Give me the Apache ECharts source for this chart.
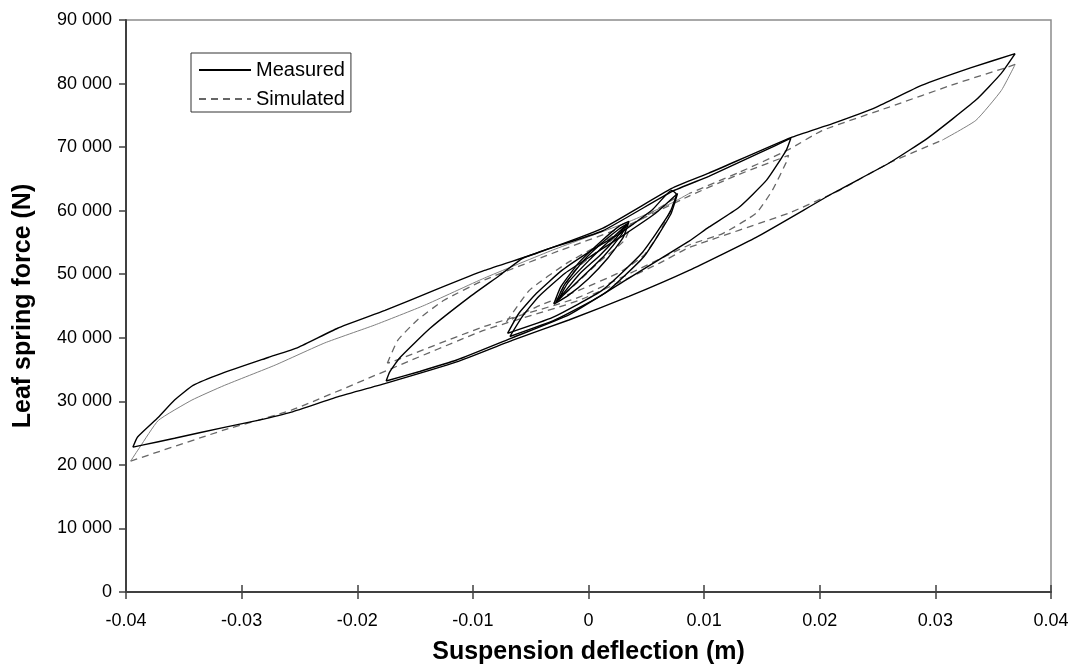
<!DOCTYPE html>
<html>
<head>
<meta charset="utf-8">
<script src="https://cdn.jsdelivr.net/npm/echarts@6/dist/echarts.min.js"></script>
<style>html,body{margin:0;padding:0;background:#fff}#c{width:1074px;height:672px}</style>
</head>
<body>
<div id="c"></div>
<script>
// ---- tick values ----
const xTicks = [-0.04, -0.03, -0.02, -0.01, 0, 0.01, 0.02, 0.03, 0.04];
const yTicks = [0, 10000, 20000, 30000, 40000, 50000, 60000, 70000, 80000, 90000];

// ---- Measured (deflection m, force N) ----
const measuredBig = [[0.0369,84700],[0.0331,82500],[0.0288,79700],[0.0249,76300],[0.0211,73700],[0.0175,71500],[0.0104,65900],[0.0072,63500],[0.0012,57200],[-0.0045,53300],[-0.0090,50600],[-0.0133,47500],[-0.0176,44300],[-0.0217,41500],[-0.0251,38500],[-0.0277,36900],[-0.0317,34400],[-0.0342,32500],[-0.0358,30200],[-0.0372,27500],[-0.0390,24400],[-0.0394,22800],[-0.0386,23100],[-0.0358,24200],[-0.0315,25900],[-0.0286,27000],[-0.0257,28300],[-0.0217,30700],[-0.0174,32900],[-0.0114,36200],[-0.0066,39600],[-0.0017,42800],[0.0035,46500],[0.0087,50600],[0.0145,55800],[0.0211,62700],[0.0260,67500],[0.0294,71500],[0.0335,77400],[0.0357,81600],[0.0369,84700]];
const measuredMedium = [[-0.0175,33200],[-0.0172,34600],[-0.0163,36900],[-0.0137,41500],[-0.0103,46400],[-0.0077,49800],[-0.0057,52500],[-0.0038,53800],[0.0012,56800],[0.0072,63000],[0.0104,65400],[0.0147,69000],[0.0175,71400],[0.0171,69500],[0.0154,64800],[0.0130,60500],[0.0104,57400],[0.0087,55200],[0.0035,49400],[-0.0017,43600],[-0.0066,40000],[-0.0114,36500],[-0.0146,34700],[-0.0175,33200]];
const measuredSmallA = [[-0.0070,40700],[-0.0060,43900],[-0.0045,47000],[-0.0023,50600],[0.0003,53800],[0.0027,56400],[0.0055,60100],[0.0072,63200],[0.0076,62600],[0.0070,59600],[0.0046,53300],[0.0012,47500],[-0.0031,43200],[-0.0070,40700]];
const measuredSmallB = [[-0.0068,40200],[-0.0057,43400],[-0.0043,46500],[-0.0020,50200],[0.0006,53300],[0.0029,56000],[0.0058,59600],[0.0077,62700],[0.0071,59400],[0.0048,52800],[0.0014,47000],[-0.0029,42800],[-0.0068,40200]];
const measuredTinyA = [[-0.0028,45600],[-0.0021,48300],[-0.0004,52200],[0.0014,55300],[0.0027,57200],[0.0034,58000],[0.0028,56100],[0.0014,53000],[-0.0004,49800],[-0.0019,47200],[-0.0028,45600]];
const measuredTinyB = [[-0.0030,45300],[-0.0024,48000],[-0.0008,51900],[0.0011,55200],[0.0026,57500],[0.0035,58300],[0.0030,55800],[0.0017,52600],[0.0000,49300],[-0.0018,46600],[-0.0030,45300]];
const measuredTinyC = [[-0.0026,46000],[-0.0018,48600],[0.0000,52100],[0.0016,54900],[0.0033,57800],[0.0024,55700],[0.0010,53000],[-0.0008,50000],[-0.0026,46000]];

// ---- Simulated ----
const simulatedBigUpper = [[0.0369,83000],[0.0361,82500],[0.0318,80000],[0.0260,76300],[0.0202,72600],[0.0173,69600],[0.0130,66000],[0.0087,62700]];
const simulatedBigUpperDense = [[0.0087,62700],[0.0072,61200],[0.0034,58200],[-0.0031,53800],[-0.0090,49400],[-0.0142,45100],[-0.0185,42000],[-0.0228,39200],[-0.0271,35700],[-0.0315,32500],[-0.0343,30200],[-0.0372,27000],[-0.0388,22800],[-0.0396,20600]];
const simulatedBigLower = [[-0.0396,20600],[-0.0315,25500],[-0.0257,28600],[-0.0170,35200],[-0.0090,41200],[-0.0008,45900],[0.0061,51700],[0.0087,54200],[0.0173,59600],[0.0217,63200],[0.0260,67500],[0.0306,71100]];
const simulatedBigTipDense = [[0.0306,71100],[0.0335,74200],[0.0357,78900],[0.0369,83000]];
const simulatedMedium = [[-0.0174,36000],[-0.0165,39600],[-0.0148,42800],[-0.0125,45900],[-0.0090,49100],[-0.0031,53300],[0.0034,57700],[0.0087,62300],[0.0130,65700],[0.0173,68700],[0.0171,67600],[0.0159,63200],[0.0145,59600],[0.0116,56400],[0.0087,54600],[-0.0008,46400],[-0.0090,41800],[-0.0170,36200],[-0.0174,36000]];
const simulatedSmall = [[-0.0071,42500],[-0.0051,47500],[-0.0019,51700],[0.0009,54600],[0.0044,58500],[0.0076,62100],[0.0071,60100],[0.0061,56400],[0.0048,53000],[0.0027,50300],[-0.0008,47500],[-0.0042,45100],[-0.0071,42500]];
const simulatedTiny = [[-0.0030,45400],[-0.0012,50600],[0.0009,53800],[0.0031,56900],[0.0037,57900],[0.0031,55300],[0.0009,51900],[-0.0012,48300],[-0.0030,45400]];

const FONT = "'Liberation Sans', Arial, sans-serif";
const MEAS = {color:'#000000', width:1.4, type:'solid'};
const SIMD = {color:'#666666', width:1.3, type:[7,5]};
const SIMS = {color:'#808080', width:1, type:'solid'};

function ser(name, data, ls, z){
  return {name, type:'line', data, showSymbol:false, symbol:'none', smooth:0.15,
    lineStyle:ls, itemStyle:{color:ls.color}, z:z, silent:true};
}

const chart = echarts.init(document.getElementById('c'), null, {renderer:'canvas'});
chart.setOption({
  animation:false,
  backgroundColor:'#ffffff',
  grid:{left:126, right:23, top:20, bottom:80, show:true, borderColor:'#8c8c8c', borderWidth:1.5, backgroundColor:'transparent'},
  legend:{
    data:['Measured','Simulated'], orient:'vertical', left:191, top:53,
    itemWidth:52, itemHeight:14, itemGap:9, padding:[7,6,3,7],
    borderColor:'#333', borderWidth:1, backgroundColor:'#fff',
    itemStyle:{opacity:0},
    textStyle:{fontFamily:FONT, fontSize:20, color:'#000'}
  },
  xAxis:[{
    type:'value', min:-0.04, max:0.04, interval:0.01,
    name:'Suspension deflection (m)', nameLocation:'middle', nameGap:48,
    nameTextStyle:{fontFamily:FONT, fontSize:25, fontWeight:'bold', color:'#000'},
    axisLine:{show:true, onZero:false, lineStyle:{color:'#404040', width:2}},
    axisTick:{show:true, length:7, lineStyle:{color:'#404040', width:1.5}},
    axisLabel:{fontFamily:FONT, fontSize:18, color:'#000', margin:20,
      formatter:v=>String(parseFloat(v.toFixed(2)))},
    splitLine:{show:false}
  },{
    type:'value', min:-0.04, max:0.04, interval:0.01, position:'bottom',
    axisLine:{show:false}, axisLabel:{show:false}, splitLine:{show:false},
    axisTick:{show:true, inside:true, length:7, lineStyle:{color:'#404040', width:1.5}}
  }],
  yAxis:{
    type:'value', min:0, max:90000, interval:10000,
    name:'Leaf spring force (N)', nameLocation:'middle', nameGap:90,
    nameTextStyle:{fontFamily:FONT, fontSize:25, fontWeight:'bold', color:'#000'},
    axisLine:{show:true, onZero:false, lineStyle:{color:'#404040', width:2}},
    axisTick:{show:true, length:7, lineStyle:{color:'#404040', width:1.5}},
    axisLabel:{fontFamily:FONT, fontSize:18, color:'#000', margin:14,
      formatter:v=>String(v).replace(/\B(?=(\d{3})+(?!\d))/g,' ')},
    splitLine:{show:false}
  },
  series:[
    ser('Simulated', simulatedBigUpper, SIMD, 2),
    ser('Simulated', simulatedBigLower, SIMD, 2),
    ser('Simulated', simulatedMedium, SIMD, 2),
    ser('Simulated', simulatedSmall, SIMD, 2),
    ser('Simulated', simulatedTiny, SIMD, 2),
    ser('Simulated', simulatedBigUpperDense, SIMS, 2),
    ser('Simulated', simulatedBigTipDense, SIMS, 2),
    ser('Measured', measuredBig, MEAS, 3),
    ser('Measured', measuredMedium, MEAS, 3),
    ser('Measured', measuredSmallA, MEAS, 3),
    ser('Measured', measuredSmallB, MEAS, 3),
    ser('Measured', measuredTinyA, MEAS, 3),
    ser('Measured', measuredTinyB, MEAS, 3),
    ser('Measured', measuredTinyC, MEAS, 3)
  ]
});
</script>
</body>
</html>
